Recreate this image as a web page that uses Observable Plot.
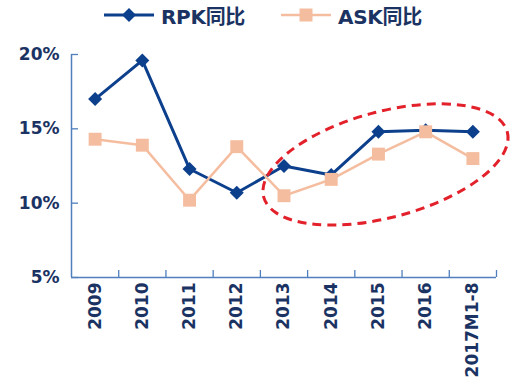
<!DOCTYPE html>
<html>
<head>
<meta charset="utf-8">
<script src="https://cdn.jsdelivr.net/npm/d3@7"></script>
<script src="https://cdn.jsdelivr.net/npm/@observablehq/plot@0.6"></script>
<style>
  html, body { margin: 0; padding: 0; background: #fff; }
  #wrap { position: relative; width: 520px; height: 388px; overflow: hidden; }
  #legend { position: relative; width: 520px; height: 30px; }
  .item { position: absolute; top: 0; height: 30px; display: flex; align-items: center; }
  .item span { font-family: "DejaVu Sans", "Noto Sans CJK SC", sans-serif; font-weight: bold; font-size: 20px; color: #1b3363; margin-left: 7px; letter-spacing: -0.3px; }
</style>
</head>
<body>
<div id="wrap">
  <div id="legend"></div>
  <div id="chart"></div>
</div>
<script>
// ---- data ----
const categories = ["2009", "2010", "2011", "2012", "2013", "2014", "2015", "2016", "2017M1-8"];
const rpkValues = [17.0, 19.6, 12.3, 10.7, 12.5, 11.9, 14.8, 14.9, 14.8];
const askValues = [14.3, 13.9, 10.2, 13.8, 10.5, 11.6, 13.3, 14.8, 13.0];
const seriesNames = ["RPK同比", "ASK同比"];
const yTicks = [5, 10, 15, 20];

// ---- styles ----
const navy = "#0c3f8c";
const peach = "#f5bd9f";
const axisColor = "#4f7fbd";
const labelColor = "#1b3363";
const red = "#e3212b";

// annotation ellipse (center in data coords, radii in category steps / % units)
const ellipseNote = { cx: 6.16, cy: 12.57, rx: 2.67, ry: 3.56, angle: -15 };

const rpk = categories.map((c, i) => ({ i, v: rpkValues[i] }));
const ask = categories.map((c, i) => ({ i, v: askValues[i] }));

// ---- legend ----
const legend = document.getElementById("legend");
function legendItem(left, name, color, sym) {
  const d = document.createElement("div");
  d.className = "item";
  d.style.left = left + "px";
  const sw = d3.create("svg").attr("width", 50).attr("height", 30);
  sw.append("line").attr("x1", 0).attr("x2", 50).attr("y1", 15).attr("y2", 15)
    .attr("stroke", color).attr("stroke-width", sym === "diamond" ? 3 : 2.5);
  if (sym === "diamond") {
    sw.append("path").attr("d", "M25,8L32,15L25,22L18,15Z").attr("fill", color);
  } else {
    sw.append("rect").attr("x", 18.5).attr("y", 8.5).attr("width", 13).attr("height", 13).attr("fill", color);
  }
  d.appendChild(sw.node());
  const s = document.createElement("span");
  s.textContent = name;
  d.appendChild(s);
  legend.appendChild(d);
}
legendItem(104, seriesNames[0], navy, "diamond");
legendItem(281, seriesNames[1], peach, "square");

// ---- chart ----
const chart = Plot.plot({
  width: 520,
  height: 358,
  marginTop: 24,
  marginBottom: 111,
  marginLeft: 71,
  marginRight: 24,
  style: { background: "#fff", overflow: "visible" },
  x: { type: "linear", domain: [-0.5, categories.length - 0.5], axis: null },
  y: { domain: [5, 20], axis: null },
  marks: [
    // axis lines
    Plot.ruleY([5], { stroke: axisColor, strokeWidth: 1.5 }),
    Plot.ruleX([-0.5], { stroke: axisColor, strokeWidth: 1.5 }),
    // inward ticks
    Plot.axisY(yTicks, { anchor: "left", tickSize: -7, tickFormat: () => "", stroke: axisColor, strokeWidth: 1.3, label: null }),
    Plot.axisX(d3.range(categories.length).map(i => i + 0.5), { anchor: "bottom", tickSize: -7, tickFormat: () => "", stroke: axisColor, strokeWidth: 1.3, label: null }),
    // tick labels
    Plot.axisY(yTicks, { anchor: "left", tickSize: 0, tickPadding: 12, tickFormat: d => d + "%", fill: labelColor, fontSize: 17, fontWeight: "bold", fontFamily: "DejaVu Sans", label: null }),
    Plot.axisX(d3.range(categories.length), { anchor: "bottom", tickSize: 0, tickPadding: 5, tickRotate: -90, tickFormat: i => categories[i], fill: labelColor, fontSize: 17, fontWeight: "bold", fontFamily: "DejaVu Sans", label: null }),
    // RPK
    Plot.line(rpk, { x: "i", y: "v", stroke: navy, strokeWidth: 3 }),
    Plot.dot(rpk, { x: "i", y: "v", symbol: "diamond2", r: 6.3, fill: navy, stroke: "none" }),
    // ASK
    Plot.line(ask, { x: "i", y: "v", stroke: peach, strokeWidth: 2.5 }),
    Plot.dot(ask, { x: "i", y: "v", symbol: "square", r: 7.3, fill: peach, stroke: "none" }),
    // dashed ellipse annotation
    (index, scales) => {
      const cx = scales.x(ellipseNote.cx), cy = scales.y(ellipseNote.cy);
      const stepX = scales.x(1) - scales.x(0);
      const stepY = scales.y(0) - scales.y(1);
      return d3.create("svg:ellipse")
        .attr("cx", cx).attr("cy", cy)
        .attr("rx", ellipseNote.rx * stepX)
        .attr("ry", ellipseNote.ry * stepY)
        .attr("transform", `rotate(${ellipseNote.angle},${cx},${cy})`)
        .attr("fill", "none")
        .attr("stroke", red)
        .attr("stroke-width", 3)
        .attr("stroke-dasharray", "9,6")
        .node();
    }
  ]
});
document.getElementById("chart").appendChild(chart);
</script>
</body>
</html>
